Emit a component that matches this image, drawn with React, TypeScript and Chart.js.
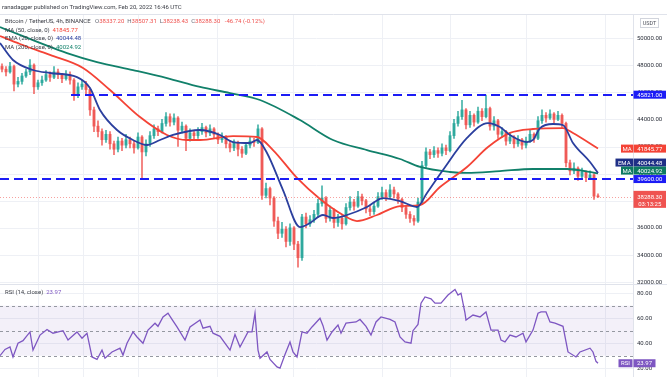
import React, { useEffect, useRef } from "react";
import { Chart, registerables } from "chart.js";
Chart.register(...registerables);

// ---------- data ----------
const firstOpen = 47900;
const closes = [
  47700, 47500, 47900, 46600, 46800, 47200, 47500, 48000, 46400, 46700,
  46900, 47300, 47100, 47500, 47300, 47000, 47300, 46900, 45800, 46400,
  46600, 46200, 44700, 43500, 43100, 42500, 42900, 42200, 41800, 42400,
  42100, 42500, 42200, 41900, 42700, 41600, 42200, 42800, 43300, 43100,
  43700, 44200, 43800, 44100, 43200, 43500, 42600, 43000, 42800, 43100,
  43400, 43000, 43300, 42900, 42500, 42700, 42200, 41900, 42300, 41800,
  41500, 42100, 42400, 42300, 43300, 38400, 38900, 38200, 36500, 35600,
  35900, 35000, 36000, 34800, 33800, 36800, 36300, 36600, 37000, 37800,
  38200, 36700, 37300, 36400, 36700, 36300, 37500, 37900, 37600, 38300,
  38000, 37400, 37200, 37600, 38300, 38600, 38300, 38800, 38500, 38100,
  37500, 37000, 36700, 36500, 37900, 40600, 41600, 41400, 41700, 41500,
  41900, 41700, 42800, 43700, 44200, 44700, 43600, 44300, 43800, 44600,
  44200, 44800, 43500, 43900, 42900, 43100, 42400, 42700, 42200, 42500,
  42100, 42400, 42900, 42600, 43900, 44300, 44100, 44400, 44000, 44300,
  43700, 40800, 40200, 40400, 39800, 40100, 39700, 39900, 38337.2, 38288.3,
];
const highs = [
  48100, 47900, 48200, 48000, 47100, 47400, 47700, 48400, 48100, 46900,
  47200, 47600, 47500, 47900, 47700, 47400, 47600, 47500, 47000, 46700,
  46900, 46800, 46300, 44900, 43900, 43300, 43200, 43100, 42400, 42700,
  42600, 42900, 42700, 42400, 43000, 42800, 42500, 43100, 43600, 43500,
  44000, 44500, 44400, 44400, 44200, 43800, 43600, 43300, 43200, 43400,
  43700, 43500, 43600, 43400, 43000, 43000, 42800, 42400, 42500, 42400,
  42000, 42300, 42700, 42600, 43600, 43400, 39300, 39000, 38300, 36800,
  36400, 36100, 36300, 36100, 35000, 37000, 37100, 36900, 37300, 38100,
  39100, 38300, 37600, 37400, 37000, 36900, 37800, 38300, 38100, 38700,
  38500, 38100, 37600, 37900, 38600, 39000, 38800, 39200, 39000, 38600,
  38200, 37600, 37200, 36900, 38200, 40900, 41900, 41800, 42000, 41900,
  42200, 42100, 43100, 44000, 44600, 45400, 44800, 44600, 44400, 44900,
  44800, 45800, 44900, 44200, 44000, 43400, 43200, 43000, 42800, 42800,
  42600, 42700, 43200, 43000, 44200, 44700, 44500, 44700, 44500, 44600,
  44400, 43800, 41000, 40800, 40500, 40400, 40200, 40200, 40000, 38507.31,
];
const lows = [
  47500, 47200, 47400, 46100, 46400, 46600, 47100, 47300, 45900, 46200,
  46500, 46800, 46800, 47000, 47000, 46700, 46900, 46600, 45400, 45600,
  46200, 45900, 44300, 43100, 42700, 42100, 42300, 41800, 41400, 41600,
  41700, 41900, 41900, 41500, 41800, 39700, 41300, 42000, 42600, 42800,
  43000, 43500, 43500, 43600, 42000, 43000, 41700, 42400, 42500, 42600,
  42900, 42700, 42800, 42600, 42200, 42300, 41900, 41600, 41700, 41300,
  41200, 41400, 41900, 42000, 42200, 38100, 38200, 37700, 36100, 35200,
  35300, 34600, 34700, 34400, 33100, 33600, 36000, 36100, 36400, 36800,
  37600, 36400, 36500, 36000, 36100, 35900, 36200, 37300, 37300, 37500,
  37700, 37100, 36900, 37000, 37500, 38100, 38000, 38200, 38200, 37800,
  37200, 36700, 36400, 36200, 36400, 37800, 40400, 41100, 41200, 41200,
  41300, 41400, 41600, 42600, 43500, 44000, 43300, 43400, 43500, 43700,
  43900, 44100, 43200, 43200, 42600, 42700, 42100, 42200, 41900, 42000,
  41800, 41900, 42300, 42300, 42500, 43700, 43800, 44000, 43700, 43900,
  43400, 40500, 39900, 40000, 39500, 39600, 39400, 39600, 38100, 38238.43,
];

const ema20T = [-0.5, 2.75, 7.75, 12, 18.75, 22, 24.5, 28.75, 32.75, 36.25, 39.5, 42.75, 49.5, 54.5, 57.75, 62, 63.75, 66.25, 70.25, 74.5, 77, 80.25, 82.75, 86.25, 91.25, 95.25, 99.5, 103.75, 106.25, 110.25, 116.25, 121.5, 124.5, 127, 131.25, 132.75, 134.5, 137.75, 140.25, 142.75, 147, 149];
const ema20V = [49630, 48380, 47640, 47420, 47120, 46310, 44690, 43215, 42480, 42110, 42480, 42850, 43215, 42850, 42330, 42260, 42480, 41520, 38790, 36060, 36360, 36950, 36730, 36950, 37540, 38200, 37980, 37540, 38570, 40270, 42630, 43730, 43440, 42850, 42330, 42480, 43360, 43660, 43580, 42260, 40855, 40044.48];

const ma50T = [-0.5, 4.5, 12, 20.25, 27, 34.5, 41.25, 46.25, 49.5, 57.75, 63.75, 67.75, 73.75, 79.5, 85.25, 88.75, 93.75, 99.5, 104.5, 109.5, 116.25, 121.5, 127, 132.75, 140.25, 142.75, 149];
const ma50V = [50150, 49560, 48750, 47790, 46165, 44170, 42850, 42480, 42480, 42770, 42700, 41740, 39680, 38130, 36950, 36500, 36950, 37610, 37680, 39010, 40490, 41960, 43000, 43290, 43360, 42990, 41845.77];

const ma200T = [-0.5, 16.25, 23.75, 32.75, 41.25, 49.5, 57, 64.5, 74.5, 82.75, 91.25, 99.5, 104.5, 112, 116.25, 124.5, 132.75, 141.25, 149];
const ma200V = [50810, 48890, 48230, 47640, 47050, 46390, 45940, 45430, 43950, 42480, 41740, 41080, 40490, 40120, 40050, 40190, 40340, 40340, 40024.92];

const rsiT = [-0.5, 0.75, 2, 2.75, 4, 5.25, 7, 7.75, 9.5, 11.25, 12.75, 15.25, 16.5, 18.75, 20, 21.25, 22.5, 23.75, 25, 25.75, 27.5, 29.5, 30.25, 31.25, 32.75, 33.75, 35.25, 36.5, 38.25, 39, 40.25, 41.5, 42.5, 43.75, 45.75, 47, 49.5, 50.25, 52, 52.75, 54.5, 57, 58.25, 59.5, 61.5, 62.5, 63.25, 64, 64.5, 66.25, 67, 68.75, 69.5, 70.75, 72, 72.75, 73.75, 75, 76.25, 77.5, 79.5, 80.25, 81.25, 82.5, 84, 84.75, 86, 88.5, 89.5, 91, 92.25, 93.5, 94.75, 97, 98.25, 99.5, 100.75, 102.25, 102.75, 104, 104.75, 105.75, 107.25, 108.25, 109.75, 111.5, 113.25, 114, 114.75, 115.75, 116, 117.75, 119.5, 121, 122.25, 124, 124.75, 125.75, 127, 128.5, 130.25, 131, 132.75, 134, 134.75, 136, 137, 138.25, 140.25, 141.5, 143.5, 144.5, 147, 147.75, 148.5, 149];
const rsiV = [30, 35, 37, 29, 40, 42, 49, 34.5, 46.5, 51, 48, 50, 42.5, 49, 44, 48, 29, 27, 34.5, 28, 33, 36, 30.5, 40, 49, 45, 40, 50.5, 56, 53.5, 61, 64, 59, 53, 42.5, 53, 58.5, 52, 53.5, 48, 45.5, 34.5, 47, 37, 49, 49, 64, 34.5, 28, 33, 27, 21, 20, 31, 41, 33, 29, 49, 48, 53, 60, 54, 42.5, 49, 54.5, 48, 56, 57, 59, 53.5, 46.5, 57, 61, 59, 57, 45, 41, 40, 50, 55, 72, 77, 75.5, 72, 72, 78.5, 83, 78.5, 80, 64, 58.5, 62.5, 61, 65, 50.5, 50.5, 42.5, 41, 46.5, 45, 48, 41, 50.5, 64, 65, 65, 57, 56, 53.5, 33, 29, 33, 36, 33, 25.5, 23.97];

const priceTicks = [32000, 34000, 36000, 38000, 40000, 42000, 44000, 46000, 48000, 50000];
const rsiTicks = [20, 40, 60, 80];
const rsiLevels = [70, 50, 30];
const levels = [45821, 39600];
const levelStart = [17.25, -0.5];
const timeGrid = [9, 20.25, 34, 53.75, 72.75, 95, 112, 131, 150.75];
const changeText = "-46.74 (-0.12%)";
const headerText = "ranadagger published on TradingView.com, Feb 20, 2022 16:46 UTC";
const symbolText = "Bitcoin / TetherUS, 4h, BINANCE";
const countdownText = "03:13:25";

// ---------- style ----------
const W = 667;
const MAIN_H = 285;
const RSI_H = 92;
const AXIS_W = 34;
const X_MIN = -0.5;
const X_MAX = 157.75;
const UP = "rgba(38,166,154,0.85)";
const DOWN_C = "rgba(239,83,80,0.85)";
const DOWN = "#ef5350";
const BLUE_LVL = "#1c1cf5";
const RED = "#f44336";
const NAVY = "#2b3f9e";
const NAVY_BOX = "#1f2f86";
const GREEN = "#11806a";
const GREEN_BOX = "#0e7a62";
const PURPLE = "#7e57c2";
const GRID = "#eef0f5";
const BORDER = "#e0e3eb";
const TXT = "#2a2e39";
const FONT = 'Roboto, "Open Sans", sans-serif';

const zip = (t: number[], v: number[]) => t.map((x, i) => ({ x, y: v[i] }));

function hline(ctx: any, x0: number, y: number, x1: number) {
  ctx.beginPath();
  ctx.moveTo(x0, y);
  ctx.lineTo(x1, y);
  ctx.stroke();
}
function vline(ctx: any, x: number, y0: number, y1: number) {
  ctx.beginPath();
  ctx.moveTo(x, y0);
  ctx.lineTo(x, y1);
  ctx.stroke();
}
function box(ctx: any, x: number, yc: number, w: number, h: number, bg: string, text: string) {
  ctx.fillStyle = bg;
  ctx.fillRect(x, yc - h / 2, w, h);
  ctx.fillStyle = "#ffffff";
  ctx.textAlign = "center";
  ctx.textBaseline = "middle";
  ctx.fillText(text, x + w / 2, yc + 0.5);
}
function segs(ctx: any, x: number, y: number, parts: [string, string][]) {
  ctx.textAlign = "left";
  ctx.textBaseline = "middle";
  let cx = x;
  for (const [t, c] of parts) {
    ctx.fillStyle = c;
    ctx.fillText(t, cx, y);
    cx += ctx.measureText(t).width;
  }
}

const mainPlugin = {
  id: "mainDeco",
  beforeDatasetsDraw(chart: any) {
    const { ctx, chartArea: a, scales } = chart;
    const x = scales.x, y = scales.y;
    ctx.save();
    ctx.strokeStyle = GRID;
    ctx.lineWidth = 1;
    for (const p of priceTicks) {
      const py = Math.round(y.getPixelForValue(p)) + 0.5;
      if (py > a.top && py < a.bottom) hline(ctx, a.left, py, a.right);
    }
    for (const t of timeGrid) {
      const px = Math.round(x.getPixelForValue(t)) + 0.5;
      vline(ctx, px, a.top, a.bottom);
    }
    ctx.restore();
  },
  afterDatasetsDraw(chart: any) {
    const { ctx, chartArea: a, scales } = chart;
    const x = scales.x, y = scales.y;
    ctx.save();
    ctx.beginPath();
    ctx.rect(a.left, a.top, a.right - a.left, a.bottom - a.top);
    ctx.clip();
    ctx.strokeStyle = BLUE_LVL;
    ctx.lineWidth = 2;
    ctx.setLineDash([9, 5]);
    levels.forEach((lv, k) => {
      const py = Math.round(y.getPixelForValue(lv));
      hline(ctx, x.getPixelForValue(levelStart[k]), py, a.right);
    });
    const last = closes[closes.length - 1];
    ctx.setLineDash([1, 2]);
    ctx.strokeStyle = "rgba(239,83,80,0.55)";
    ctx.lineWidth = 1;
    hline(ctx, a.left, Math.round(y.getPixelForValue(last)) + 0.5, a.right);
    ctx.restore();
  },
  afterDraw(chart: any) {
    const { ctx, chartArea: a, scales } = chart;
    const y = scales.y;
    const n = closes.length;
    ctx.save();
    ctx.strokeStyle = BORDER;
    ctx.lineWidth = 1;
    hline(ctx, 0, 14.5, W);
    vline(ctx, a.right + 0.5, 14.5, MAIN_H);
    hline(ctx, 0, MAIN_H - 0.5, W);

    ctx.font = `6px ${FONT}`;
    ctx.fillStyle = "#3a3d45";
    ctx.textAlign = "left";
    ctx.textBaseline = "middle";
    ctx.fillText(headerText, 2, 7);

    const o = n > 1 ? closes[n - 2] : firstOpen;
    segs(ctx, 5, 21.5, [
      [symbolText, "#3a3d45"],
      ["   O", "#6a6d78"], [o.toFixed(2), DOWN],
      ["  H", "#6a6d78"], [highs[n - 1].toFixed(2), DOWN],
      ["  L", "#6a6d78"], [lows[n - 1].toFixed(2), DOWN],
      ["  C", "#6a6d78"], [closes[n - 1].toFixed(2), DOWN],
      ["   " + changeText, DOWN],
    ]);
    const ma50Last = ma50V[ma50V.length - 1];
    const emaLast = ema20V[ema20V.length - 1];
    const ma200Last = ma200V[ma200V.length - 1];
    segs(ctx, 5, 30, [["MA (50, close, 0)  ", "#3a3d45"], [ma50Last.toFixed(2), RED]]);
    segs(ctx, 5, 38.5, [["EMA (20, close, 0)  ", "#3a3d45"], [emaLast.toFixed(2), NAVY]]);
    segs(ctx, 5, 47, [["MA (200, close, 0)  ", "#3a3d45"], [ma200Last.toFixed(2), GREEN]]);

    ctx.fillStyle = TXT;
    ctx.textAlign = "left";
    for (const p of priceTicks) {
      const py = y.getPixelForValue(p);
      if (py < a.top + 3 || py > a.bottom + 1) continue;
      ctx.fillText(p.toFixed(2), a.right + 4, py);
    }
    ctx.strokeStyle = "#d1d4dc";
    ctx.fillStyle = "#ffffff";
    ctx.fillRect(640.5, 18.5, 18, 9);
    ctx.strokeRect(640.5, 18.5, 18, 9);
    ctx.fillStyle = "#50535e";
    ctx.textAlign = "center";
    ctx.font = `5.5px ${FONT}`;
    ctx.fillText("USDT", 649.5, 23.3);

    ctx.font = `6px ${FONT}`;
    const bx = a.right + 0.5;
    const bw = 32.5;
    const yHi = y.getPixelForValue(levels[0]);
    const yLo = y.getPixelForValue(levels[1]);
    const yM200 = Math.min(y.getPixelForValue(ma200Last), yLo - 8.5);
    const yEma = Math.min(y.getPixelForValue(emaLast), yM200 - 8);
    const yM50 = Math.min(y.getPixelForValue(ma50Last), yEma - 8);
    const yP = y.getPixelForValue(closes[n - 1]);

    box(ctx, bx, yHi, bw, 8, BLUE_LVL, levels[0].toFixed(2));
    box(ctx, bx - 12.5, yM50, 12, 8, RED, "MA");
    box(ctx, bx, yM50, bw, 8, RED, ma50Last.toFixed(2));
    box(ctx, bx - 18, yEma, 17.5, 8, NAVY_BOX, "EMA");
    box(ctx, bx, yEma, bw, 8, NAVY_BOX, emaLast.toFixed(2));
    box(ctx, bx - 12.5, yM200, 12, 8, GREEN_BOX, "MA");
    box(ctx, bx, yM200, bw, 8, GREEN_BOX, ma200Last.toFixed(2));
    box(ctx, bx, yLo, bw, 8, BLUE_LVL, levels[1].toFixed(2));
    ctx.fillStyle = DOWN;
    ctx.fillRect(bx, yP - 6, bw, 17);
    ctx.fillStyle = "#ffffff";
    ctx.textAlign = "center";
    ctx.fillText(closes[n - 1].toFixed(2), bx + bw / 2, yP + 0.5);
    ctx.fillText(countdownText, bx + bw / 2, yP + 7.5);
    ctx.restore();
  },
};

const rsiPlugin = {
  id: "rsiDeco",
  beforeDatasetsDraw(chart: any) {
    const { ctx, chartArea: a, scales } = chart;
    const x = scales.x, y = scales.y;
    ctx.save();
    ctx.strokeStyle = GRID;
    ctx.lineWidth = 1;
    for (const t of rsiTicks) hline(ctx, a.left, Math.round(y.getPixelForValue(t)) + 0.5, a.right);
    for (const t of timeGrid) vline(ctx, Math.round(x.getPixelForValue(t)) + 0.5, a.top, a.bottom);
    const yTop = y.getPixelForValue(rsiLevels[0]);
    const yBot = y.getPixelForValue(rsiLevels[rsiLevels.length - 1]);
    ctx.fillStyle = "rgba(126,87,194,0.09)";
    ctx.fillRect(a.left, yTop, a.right - a.left, yBot - yTop);
    ctx.strokeStyle = "#9598a1";
    ctx.setLineDash([3, 3]);
    for (const lv of rsiLevels) hline(ctx, a.left, Math.round(y.getPixelForValue(lv)) + 0.5, a.right);
    ctx.restore();
  },
  afterDraw(chart: any) {
    const { ctx, chartArea: a, scales } = chart;
    const y = scales.y;
    ctx.save();
    ctx.strokeStyle = BORDER;
    ctx.lineWidth = 1;
    vline(ctx, a.right + 0.5, 0, RSI_H);
    ctx.font = `6px ${FONT}`;
    ctx.textBaseline = "middle";
    ctx.textAlign = "left";
    ctx.fillStyle = TXT;
    for (const t of rsiTicks) ctx.fillText(t.toFixed(2), a.right + 4, y.getPixelForValue(t));
    const last = rsiV[rsiV.length - 1];
    segs(ctx, 5, 7, [["RSI (14, close)  ", "#3a3d45"], [last.toFixed(2), PURPLE]]);
    const yl = y.getPixelForValue(last);
    box(ctx, a.right - 14.5, yl, 14, 8, PURPLE, "RSI");
    box(ctx, a.right + 0.5, yl, 22, 8, PURPLE, last.toFixed(2));
    ctx.restore();
  },
};

export default function App() {
  const mainRef = useRef<HTMLCanvasElement>(null);
  const rsiRef = useRef<HTMLCanvasElement>(null);

  useEffect(() => {
    const opens = closes.map((c, i) => (i === 0 ? firstOpen : closes[i - 1]));
    const colors = closes.map((c, i) => (c >= opens[i] ? UP : DOWN_C));
    const bodies = closes.map((c, i) => ({ x: i, y: [opens[i], c] }));
    const wicks = closes.map((c, i) => ({
      x: i,
      y: [Math.min(lows[i], opens[i], c), Math.max(highs[i], opens[i], c)],
    }));
    const lineDs = (t: number[], v: number[], color: string, order: number) => ({
      type: "line",
      data: zip(t, v),
      borderColor: color,
      borderWidth: 1.8,
      pointRadius: 0,
      fill: false,
      cubicInterpolationMode: "monotone",
      order,
    });

    const main = new Chart(mainRef.current as any, {
      type: "bar",
      data: {
        datasets: [
          { type: "bar", data: wicks, backgroundColor: colors, barThickness: 1, grouped: false, order: 6 } as any,
          { type: "bar", data: bodies, backgroundColor: colors, barThickness: 2.3, minBarLength: 1, grouped: false, order: 5 } as any,
          lineDs(ma200T, ma200V, GREEN, 3) as any,
          lineDs(ma50T, ma50V, RED, 2) as any,
          lineDs(ema20T, ema20V, NAVY, 1) as any,
        ],
      },
      options: {
        responsive: false,
        animation: false,
        devicePixelRatio: 1,
        layout: { padding: { top: 15, right: AXIS_W, bottom: 1, left: 0 } },
        scales: {
          x: { type: "linear", min: X_MIN, max: X_MAX, display: false, offset: false },
          y: { type: "linear", min: 31862, max: 51696, display: false },
        },
        plugins: { legend: { display: false }, tooltip: { enabled: false } },
      } as any,
      plugins: [mainPlugin],
    });

    const rsi = new Chart(rsiRef.current as any, {
      type: "line",
      data: {
        datasets: [
          {
            data: zip(rsiT, rsiV),
            borderColor: PURPLE,
            borderWidth: 1.3,
            pointRadius: 0,
            fill: false,
            tension: 0,
          } as any,
        ],
      },
      options: {
        responsive: false,
        animation: false,
        devicePixelRatio: 1,
        layout: { padding: { top: 0, right: AXIS_W, bottom: 0, left: 0 } },
        scales: {
          x: { type: "linear", min: X_MIN, max: X_MAX, display: false },
          y: { type: "linear", min: 12.96, max: 86.56, display: false },
        },
        plugins: { legend: { display: false }, tooltip: { enabled: false } },
      } as any,
      plugins: [rsiPlugin],
    });

    return () => {
      main.destroy();
      rsi.destroy();
    };
  }, []);

  return (
    <div style={{ position: "fixed", left: 0, top: 0, width: W, height: 377, background: "#ffffff", overflow: "hidden" }}>
      <canvas ref={mainRef} width={W} height={MAIN_H} style={{ position: "absolute", left: 0, top: 0, width: W, height: MAIN_H }} />
      <canvas ref={rsiRef} width={W} height={RSI_H} style={{ position: "absolute", left: 0, top: MAIN_H, width: W, height: RSI_H }} />
    </div>
  );
}
